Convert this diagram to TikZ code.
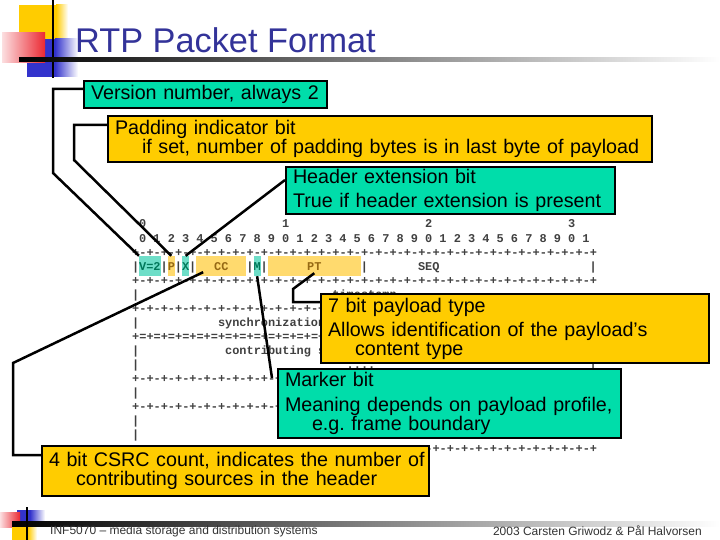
\documentclass[tikz,border=0pt]{standalone}
\usepackage{fontspec}
\setmainfont{Liberation Sans}
\newfontfamily\asciifont{Liberation Mono}
\usepackage{tikz}
\usetikzlibrary{arrows.meta,positioning,calc}

\definecolor{titleblue}{RGB}{51,51,153}
\definecolor{notegreen}{RGB}{0,221,170}
\definecolor{noteyellow}{RGB}{255,204,0}
\definecolor{fldgreen}{RGB}{110,222,200}
\definecolor{fldyellow}{RGB}{255,218,110}
\definecolor{fldteal}{RGB}{0,120,90}
\definecolor{fldbrown}{RGB}{150,105,20}
\definecolor{decored}{RGB}{235,40,50}
\definecolor{decoblue}{RGB}{51,51,204}

\newcommand\rulerpart{+-+-+-+-}
\newcommand\rulerparteq{+=+=+=+=}
\newcommand\rtprule{\rulerpart\rulerpart\rulerpart\rulerpart\rulerpart\rulerpart\rulerpart\rulerpart+}
\newcommand\rtpruleeq{\rulerparteq\rulerparteq\rulerparteq\rulerparteq\rulerparteq\rulerparteq\rulerparteq\rulerparteq+}
\newcommand\colx[1]{132+(#1+0.5)*7.15}
\newcommand\noteline[1]{\mbox{#1}}
\newcommand\indentline[1]{\mbox{\hspace*{27pt}#1}}

\tikzset{
  asciitext/.style={font=\asciifont\fontsize{11.92}{12}\selectfont\bfseries,text=black!75,inner sep=0pt},
  fieldbox/.style={asciitext,minimum height=20pt,text height=8pt,text depth=0pt},
  notebox/.style={draw=black,line width=2pt,anchor=north west,inner xsep=7pt,inner ysep=0pt,
                  align=left,font=\fontsize{19.7}{19}\selectfont},
  greenbox/.style={notebox,fill=notegreen},
  yellowbox/.style={notebox,fill=noteyellow},
  link/.style={line width=2.5pt,black},
  footer/.style={font=\fontsize{12}{14}\selectfont,text=black!80,inner sep=0pt}
}

\begin{document}
\begin{tikzpicture}[x=1pt,y=-1pt,>=Stealth]
\fill[white] (0,0) rectangle (720,540);
\useasboundingbox (0,0) rectangle (720,540);

% slide decoration
\fill[noteyellow] (19,5) rectangle (56,40);
\shade[left color=noteyellow,right color=white] (56,5) rectangle (68,40);
\fill[decoblue] (27,39) rectangle (55,77);
\shade[left color=decoblue,right color=white] (55,39) rectangle (78,77);
\shade[left color=decored!15,right color=decored] (2,33) rectangle (45,63);
\draw[line width=2pt] (53,0) -- (53,78);
\shade[left color=black,right color=white] (19,58) rectangle (720,62);
\node[anchor=base west,inner sep=0pt,text=titleblue,font=\fontsize{34.3}{40}\selectfont] (title) at (75,53) {RTP Packet Format};

\fill[decoblue] (17,510) rectangle (30,522);
\shade[left color=decoblue,right color=white] (30,510) rectangle (45,522);
\shade[left color=decored!15,right color=decored] (0,512) rectangle (20,527);
\fill[noteyellow] (12,527) rectangle (28,540);
\shade[left color=noteyellow,right color=white] (28,527) rectangle (37,540);
\shade[left color=black,right color=white] (12,521) rectangle (720,526);
\draw[line width=2pt] (27,507) -- (27,540);
\node[footer,anchor=west] (footleft) at (50,531) {INF5070 -- media storage and distribution systems};
\node[footer,anchor=east] (footright) at (702,531) {2003 Carsten Griwodz \& Pål Halvorsen};

% header layout
\foreach \d in {0,1,2,3}
  \node[asciitext,anchor=base] (dec\d) at ({\colx{20*\d+1}},228) {\d};
\foreach \i in {0,...,31} {
  \pgfmathtruncatemacro\bitdigit{mod(\i,10)}
  \node[asciitext,anchor=base] (bit\i) at ({\colx{2*\i+1}},243) {\bitdigit};
}
\foreach \r in {0,2,4,9,11,14}
  \node[asciitext,anchor=base west] (rule\r) at (132,{252+14*\r+4}) {\rtprule};
\node[asciitext,anchor=base west] (rule6) at (132,{252+14*6+4}) {\rtpruleeq};
\foreach \r in {1,3,5,7,8,10,12,13}
  \node[asciitext,anchor=base] (pipe\r-0) at ({\colx{0}},{252+14*\r+4}) {|};
\foreach \r in {1,8}
  \node[asciitext,anchor=base] (pipe\r-64) at ({\colx{64}},{252+14*\r+4}) {|};
\foreach \c in {4,6,8,16,18,32}
  \node[asciitext,anchor=base] (pipe1-\c) at ({\colx{\c}},270) {|};
\node[asciitext,anchor=base west] (ts) at ({132+28*7.15},{252+14*3+4}) {timestamp};
\node[asciitext,anchor=base west] (ssrc) at ({132+12*7.15},{252+14*5+4}) {synchronization source (SSRC) identifier};
\node[asciitext,anchor=base west] (csrc) at ({132+13*7.15},{252+14*7+4}) {contributing source (CSRC) identifiers};
\node[asciitext,anchor=base west] (dots) at ({132+30*7.15},{252+14*8+4}) {....};

\node[fieldbox,fill=fldgreen,text=fldteal,minimum width={3*7.15pt}] (vfld) at ({\colx{2}},266) {V=2};
\node[fieldbox,fill=fldyellow,text=fldbrown,minimum width={7.15pt}] (pfld) at ({\colx{5}},266) {P};
\node[fieldbox,fill=fldgreen,text=fldteal,minimum width={7.15pt}] (xfld) at ({\colx{7}},266) {X};
\node[fieldbox,fill=fldyellow,text=fldbrown,minimum width={7*7.15pt}] (ccfld) at ({\colx{12}},266) {CC\hspace{7.15pt}};
\node[fieldbox,fill=fldgreen,text=fldteal,minimum width={7.15pt}] (mfld) at ({\colx{17}},266) {M};
\node[fieldbox,fill=fldyellow,text=fldbrown,minimum width={13*7.15pt}] (ptfld) at ({\colx{25}},266) {PT\hspace{7.15pt}};
\node[fieldbox] (seqfld) at ({\colx{41}},266) {SEQ};

% notes
\node[greenbox,text width=229pt,minimum height=27pt] (vbox) at (83,80) {\noteline{Version number, always 2}};
\node[yellowbox,text width=530pt,minimum height=46pt] (pbox) at (107,115)
  {\noteline{Padding indicator bit}\\ \indentline{if set, number of padding bytes is in last byte of payload}};
\node[greenbox,text width=315pt,minimum height=47pt] (hbox) at (285,166)
  {\noteline{Header extension bit}\\[5pt] \noteline{True if header extension is present}};
\node[yellowbox,text width=374pt,minimum height=69pt] (ptbox) at (320,293)
  {\noteline{7 bit payload type}\\[5pt] \noteline{Allows identification of the payload’s}\\ \indentline{content type}};
\node[greenbox,text width=329pt,minimum height=69pt] (mkbox) at (277,368)
  {\noteline{Marker bit}\\[6pt] \noteline{Meaning depends on payload profile,}\\ \indentline{e.g.\ frame boundary}};
\node[yellowbox,text width=373pt,minimum height=50pt] (ccbox) at (41,445)
  {\noteline{4 bit CSRC count, indicates the number of}\\ \indentline{contributing sources in the header}};

% connectors
\coordinate (vbend1) at (53,89);
\coordinate (vbend2) at (53,173);
\draw[link] (vbox.west |- vbend1) -- (vbend1) -- (vbend2) -- (vfld.north west);
\coordinate (pbend1) at (74,125);
\coordinate (pbend2) at (74,160);
\draw[link] (pbox.west |- pbend1) -- (pbend1) -- (pbend2) -- (pfld.north);
\coordinate (hstart) at (285,180);
\draw[link] (hstart) -- (xfld.north);
\coordinate (cbend1) at (13,455);
\coordinate (cbend2) at (13,363);
\draw[link] (ccbox.west |- cbend1) -- (cbend1) -- (cbend2) -- ([xshift=7pt,yshift=4pt]ccfld.south west);
\draw[link] (mfld.south) -- ([xshift=-5pt,yshift=-10pt]mkbox.north west);
\coordinate (tbend1) at (293,289);
\coordinate (tbend2) at (293,302);
\draw[link] ([yshift=3pt]ptfld.south) -- (tbend1) -- (tbend2) -- (ptbox.west |- tbend2);
\end{tikzpicture}
\end{document}
